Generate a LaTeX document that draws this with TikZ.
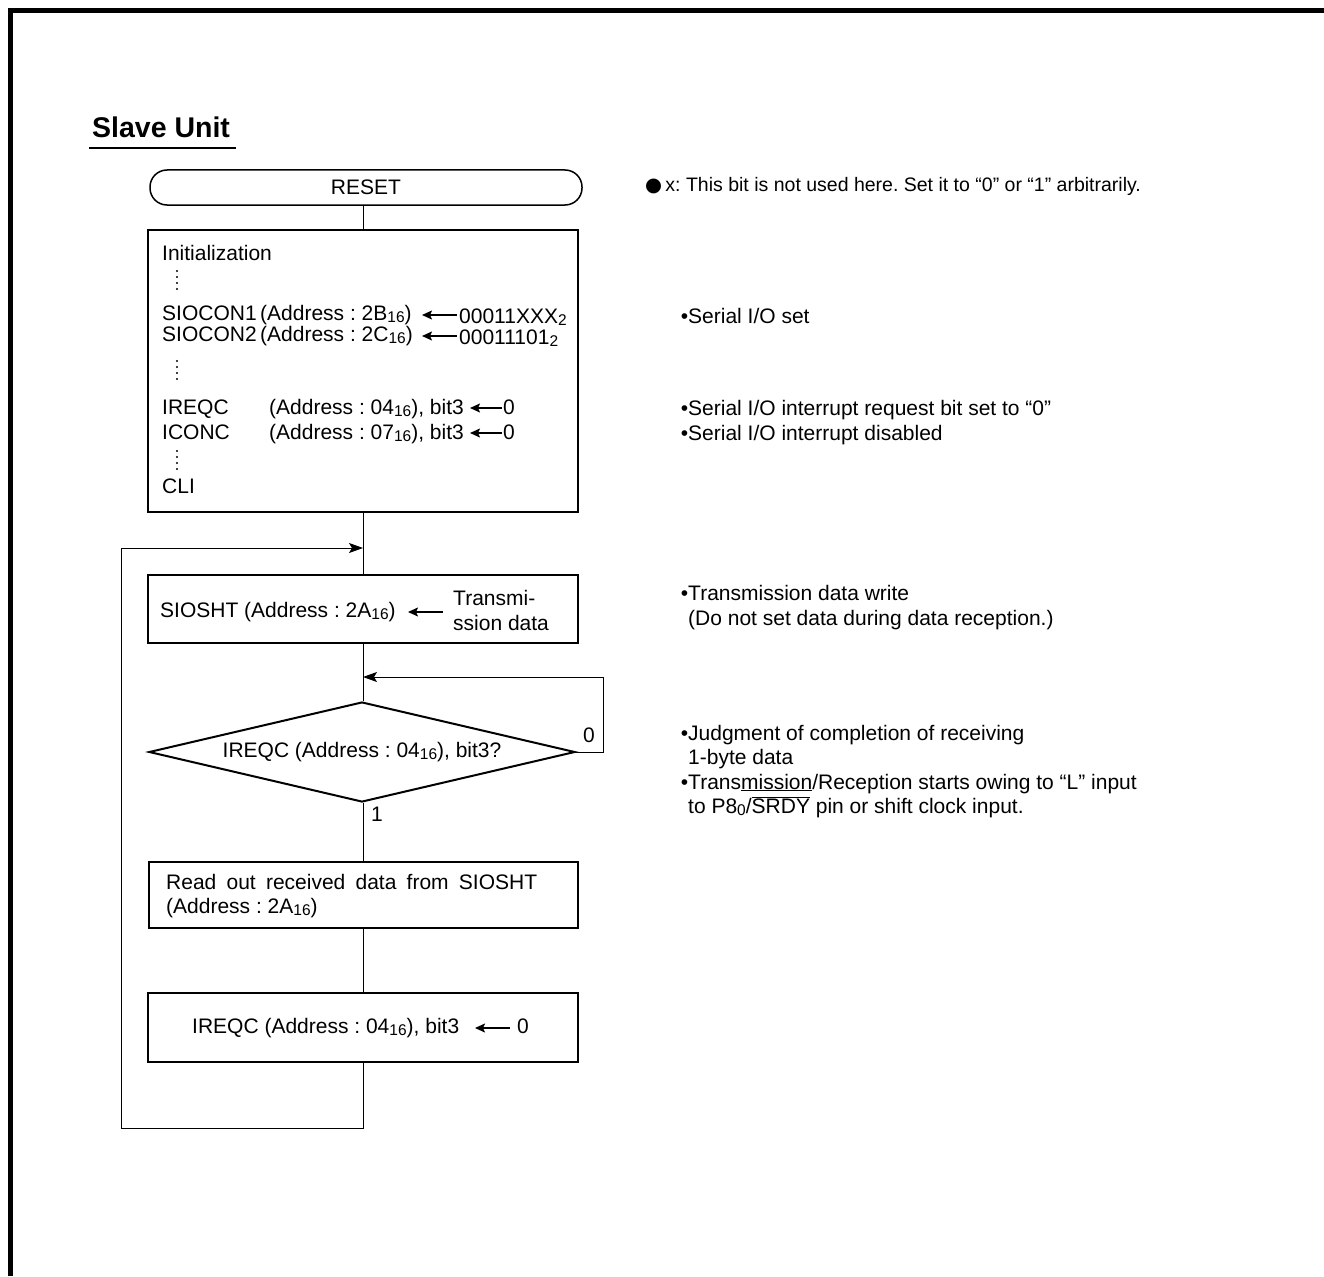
\documentclass[tikz,border=0pt]{standalone}
\usepackage{fontspec}
\setmainfont{Liberation Sans}
\newfontfamily\dejavu{DejaVu Sans}
\usetikzlibrary{shapes.geometric,arrows.meta}
\newcommand\subn[1]{\raisebox{-0.2ex}{\fontsize{15.5}{15.5}\selectfont #1}}
\frenchspacing
\begin{document}
\frenchspacing
\begin{tikzpicture}[x=1pt,y=-1pt,
  txt/.style={anchor=base west, inner sep=0pt, font=\fontsize{21}{25}\selectfont\frenchspacing},
  box/.style={draw, line width=2pt, inner sep=0pt},
  conn/.style={line width=1pt},
  arr/.style={line width=1pt, -{Stealth[length=14pt,width=10pt,inset=3pt]}},
  tarr/.style={line width=1.5pt, -{Stealth[length=10pt,width=9pt,inset=2pt]}}
]
\useasboundingbox (0,0) rectangle (1324,1276);
% page frame
\draw[line width=5pt] (10.5,1276) -- (10.5,10.5) -- (1324,10.5);

% title
\node[txt, font=\fontsize{28.5}{31}\selectfont\bfseries] (title) at (92,138) {Slave Unit};
\draw[line width=2pt] (89,148) -- (236,148);

% RESET
\node[draw, line width=1.5pt, rounded corners=17pt, minimum width=432pt, minimum height=35pt,
      inner sep=0pt, font=\fontsize{21}{25}\selectfont] (reset) at (366,187.5) {RESET};

% boxes
\node[box, minimum width=430pt, minimum height=282pt] (init) at (363,371) {};
\node[box, minimum width=430pt, minimum height=68pt] (siosht) at (363,609) {};
\node[diamond, draw, line width=2pt, minimum width=426pt, minimum height=100pt, inner sep=0pt, aspect=4.26] (dia) at (362,752) {};
\node[box, minimum width=429pt, minimum height=66pt] (read) at (363.5,895) {};
\node[box, minimum width=430pt, minimum height=69pt] (ireqcb) at (363,1027.5) {};

% init box text
\node[txt] (t1) at (162,260) {Initialization};
\foreach \yy in {271,277,283,289} \fill (177,\yy) circle (1.1pt);
\node[txt] (s1) at (162,320) {SIOCON1};
\node[txt] (a1) at (260,320) {(Address : 2B\subn{16})};
\draw[tarr] (457,315) -- (422,315);
\node[txt] (v1) at (459,323) {00011XXX\subn{2}};
\node[txt] (s2) at (162,341) {SIOCON2};
\node[txt] (a2) at (260,341) {(Address : 2C\subn{16})};
\draw[tarr] (457,336) -- (422,336);
\node[txt] (v2) at (459,344) {00011101\subn{2}};
\foreach \yy in {361,367,373,379} \fill (177,\yy) circle (1.1pt);
\node[txt] (i1) at (162,414) {IREQC};
\node[txt] (i1a) at (269,414) {(Address : 04\subn{16}), bit3};
\draw[tarr] (502,408) -- (470,408);
\node[txt] (i1v) at (503,414) {0};
\node[txt] (i2) at (162,439) {ICONC};
\node[txt] (i2a) at (269,439) {(Address : 07\subn{16}), bit3};
\draw[tarr] (502,433) -- (470,433);
\node[txt] (i2v) at (503,439) {0};
\foreach \yy in {451,457,463,469} \fill (177,\yy) circle (1.1pt);
\node[txt] (cli) at (162,493) {CLI};

% SIOSHT box text
\node[txt] (st) at (160,617) {SIOSHT (Address : 2A\subn{16})};
\draw[tarr] (443,612) -- (408,612);
\node[txt] (tr1) at (453,605) {Transmi-};
\node[txt] (tr2) at (453,630) {ssion data};

% diamond text and labels
\node[anchor=base, inner sep=0pt, font=\fontsize{21}{25}\selectfont\frenchspacing] (dt) at (362,757) {IREQC (Address : 04\subn{16}), bit3?};
\node[txt] (l0) at (583,742) {0};
\node[txt] (l1) at (371,821) {1};

% read box text
\node[txt] (r1) at (166,889) {\makebox[371pt][s]{Read out received data from SIOSHT}};
\node[txt] (r2) at (166,913) {(Address : 2A\subn{16})};

% IREQC box text
\node[txt] (q1) at (192,1033) {IREQC (Address : 04\subn{16}), bit3};
\draw[tarr] (510,1028) -- (475,1028);
\node[txt] (q2) at (517,1033) {0};

% connectors
\draw[conn] (reset.south -| init.north) -- (init.north);
\draw[conn] (init.south) -- (siosht.north);
\draw[conn] (siosht.south) -- (siosht.south |- dia.north);
\draw[conn] (read.north |- dia.south) -- (read.north);
\draw[conn] (read.south -| ireqcb.north) -- (ireqcb.north);
\coordinate (lb) at (363,1128);
\coordinate (ll) at (121,1128);
\coordinate (lt) at (121,548);
\coordinate (m1) at (363,548);
\draw[conn] (ireqcb.south) -- (lb) -- (ll) -- (lt);
\draw[arr] (lt) -- (m1);
\coordinate (rb) at (603,752);
\coordinate (rt) at (603,677);
\coordinate (m2) at (363,677);
\draw[conn] (dia.east) -- (rb) -- (rt);
\draw[arr] (rt) -- (m2);

% notes
\node[txt, font=\fontsize{19.5}{22}\selectfont\frenchspacing] (n0) at (645,191) {{\dejavu ●}\,x: This bit is not used here. Set it to “0” or “1” arbitrarily.};
\node[txt] (n1) at (688,323) {\llap{•}Serial I/O set};
\node[txt] (n2) at (688,415) {\llap{•}Serial I/O interrupt request bit set to “0”};
\node[txt] (n3) at (688,440) {\llap{•}Serial I/O interrupt disabled};
\node[txt] (n4) at (688,600) {\llap{•}Transmission data write};
\node[txt] (n5) at (688,625) {(Do not set data during data reception.)};
\node[txt] (n6) at (688,740) {\llap{•}Judgment of completion of receiving};
\node[txt] (n7) at (688,764) {1-byte data};
\node[txt] (n8) at (688,789) {\llap{•}Trans\underline{mission}/Reception starts owing to “L” input};
\node[txt] (n9) at (688,813) {to P8\subn{0}/$\overline{\mbox{SRDY}}$ pin or shift clock input.};
\end{tikzpicture}
\end{document}
